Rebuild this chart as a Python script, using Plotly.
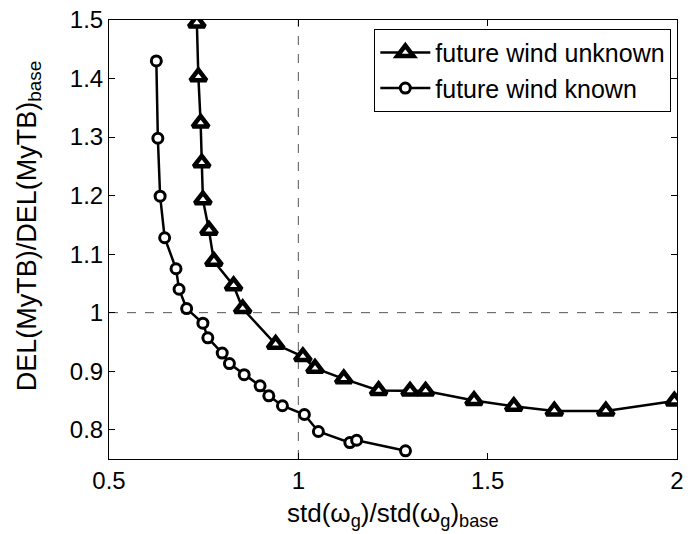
import plotly.graph_objects as go

# future wind unknown (triangles)
unk_x = [0.732, 0.736, 0.742, 0.745, 0.748, 0.764, 0.777, 0.829, 0.853, 0.940, 1.012, 1.044, 1.120,
         1.212, 1.295, 1.336, 1.464, 1.569, 1.676, 1.812, 1.993]
unk_y = [1.495, 1.403, 1.324, 1.256, 1.193, 1.141, 1.088, 1.046, 1.007, 0.946, 0.925, 0.905, 0.887,
         0.867, 0.866, 0.866, 0.850, 0.840, 0.832, 0.832, 0.849]

# future wind known (circles)
kn_x = [0.625, 0.629, 0.635, 0.647, 0.677, 0.685, 0.705, 0.748, 0.761, 0.799, 0.818, 0.857, 0.899,
        0.922, 0.958, 1.016, 1.053, 1.136, 1.154, 1.283]
kn_y = [1.430, 1.298, 1.199, 1.128, 1.075, 1.040, 1.007, 0.982, 0.957, 0.931, 0.913, 0.894, 0.875,
        0.858, 0.841, 0.826, 0.797, 0.778, 0.782, 0.764]

x_ticks = [0.5, 1, 1.5, 2]
x_labels = ["0.5", "1", "1.5", "2"]
y_ticks = [0.8, 0.9, 1.0, 1.1, 1.2, 1.3, 1.4, 1.5]
y_labels = ["0.8", "0.9", "1", "1.1", "1.2", "1.3", "1.4", "1.5"]

FONT = "Liberation Sans, Arial, Helvetica, sans-serif"

fig = go.Figure()
fig.add_trace(go.Scatter(
    x=unk_x, y=unk_y, mode="lines+markers", name="future wind unknown",
    line=dict(color="black", width=2.5),
    marker=dict(symbol="triangle-up", size=14, color="white",
                line=dict(color="black", width=4.5)),
))
fig.add_trace(go.Scatter(
    x=kn_x, y=kn_y, mode="lines+markers", name="future wind known",
    line=dict(color="black", width=2.5),
    marker=dict(symbol="circle", size=10, color="white",
                line=dict(color="black", width=3)),
))

# dashed reference lines
fig.add_shape(type="line", xref="x", yref="paper", x0=1, x1=1, y0=0, y1=1,
              line=dict(color="#555555", width=1, dash="dash"), layer="below")
fig.add_shape(type="line", xref="paper", yref="y", x0=0, x1=1, y0=1, y1=1,
              line=dict(color="#555555", width=1, dash="dash"), layer="below")

fig.update_layout(
    width=690, height=534,
    margin=dict(l=109, r=6, t=18, b=75),
    paper_bgcolor="white", plot_bgcolor="white",
    font=dict(family=FONT, size=24, color="black"),
    showlegend=True,
    legend=dict(x=0.99, y=0.98, xanchor="right", yanchor="top",
                bordercolor="black", borderwidth=1, bgcolor="white",
                font=dict(size=25), tracegroupgap=0, itemwidth=50),
    xaxis=dict(range=[0.5, 2], tickvals=x_ticks, ticktext=x_labels,
               showgrid=False, zeroline=False, showline=True, linecolor="black",
               linewidth=1, mirror="ticks", ticks="inside", ticklen=6,
               tickcolor="black", tickfont=dict(size=24)),
    yaxis=dict(range=[0.75, 1.5], tickvals=y_ticks, ticktext=y_labels,
               showgrid=False, zeroline=False, showline=True, linecolor="black",
               linewidth=1, mirror="ticks", ticks="inside", ticklen=6,
               tickcolor="black", tickfont=dict(size=24)),
    annotations=[
        dict(text="std(ω<sub>g</sub>)/std(ω<sub>g</sub>)<sub>base</sub>",
             xref="paper", yref="paper", x=0.5, y=-0.085,
             xanchor="center", yanchor="top", showarrow=False,
             font=dict(size=26)),
        dict(text="DEL(MyTB)/DEL(MyTB)<sub>base</sub>",
             xref="paper", yref="paper", x=-0.141, y=0.53, textangle=-90,
             xanchor="center", yanchor="middle", showarrow=False,
             font=dict(size=27)),
    ],
)

fig.write_html("out.html")
